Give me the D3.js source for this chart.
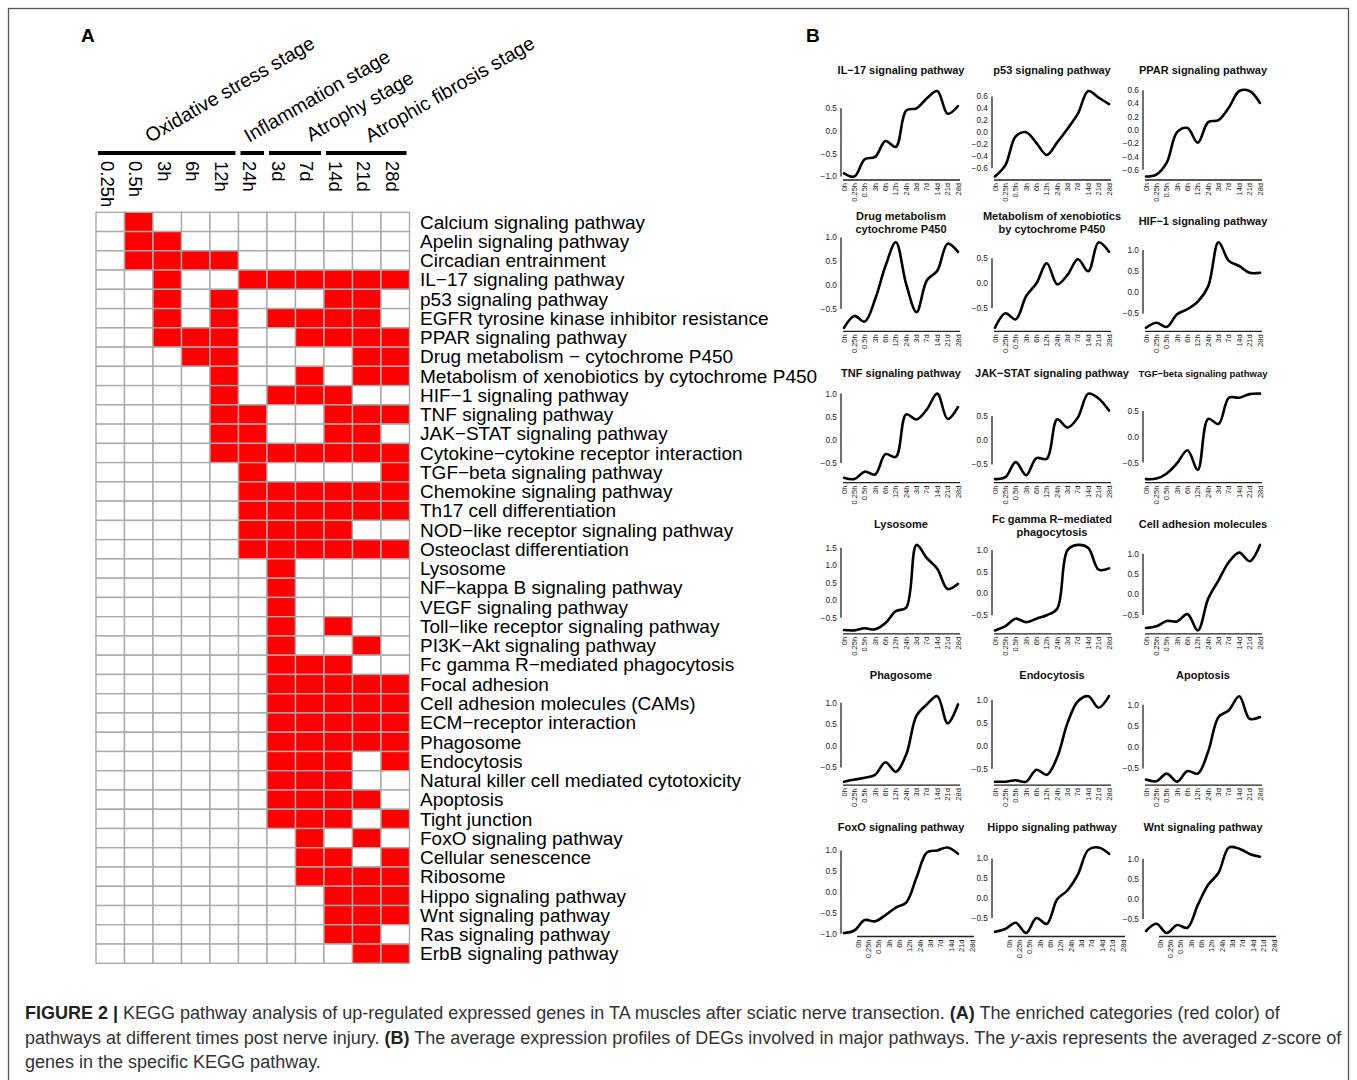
<!DOCTYPE html>
<html><head><meta charset="utf-8">
<script src="https://cdn.jsdelivr.net/npm/d3@7"></script>
<style>
body{margin:0;background:#fff}
svg{display:block}
text{font-family:"Liberation Sans",Arial,Helvetica,sans-serif}
</style>
</head><body>
<svg id="fig" width="1357" height="1080"></svg>
<script>
// ---------------- DATA: panel A ----------------
const timepointsA = ["0.25h","0.5h","3h","6h","12h","24h","3d","7d","14d","21d","28d"];
const stageNames = ["Oxidative stress stage","Inflammation stage","Atrophy stage","Atrophic fibrosis stage"];
const stageFirst = ["0.25h","24h","3d","14d"];
const stageLast  = ["12h","24h","7d","28d"];
const pathways = [
 "Calcium signaling pathway","Apelin signaling pathway","Circadian entrainment","IL\u221217 signaling pathway",
 "p53 signaling pathway","EGFR tyrosine kinase inhibitor resistance","PPAR signaling pathway",
 "Drug metabolism \u2212 cytochrome P450","Metabolism of xenobiotics by cytochrome P450","HIF\u22121 signaling pathway",
 "TNF signaling pathway","JAK\u2212STAT signaling pathway","Cytokine\u2212cytokine receptor interaction",
 "TGF\u2212beta signaling pathway","Chemokine signaling pathway","Th17 cell differentiation",
 "NOD\u2212like receptor signaling pathway","Osteoclast differentiation","Lysosome","NF\u2212kappa B signaling pathway",
 "VEGF signaling pathway","Toll\u2212like receptor signaling pathway","PI3K\u2212Akt signaling pathway",
 "Fc gamma R\u2212mediated phagocytosis","Focal adhesion","Cell adhesion molecules (CAMs)","ECM\u2212receptor interaction",
 "Phagosome","Endocytosis","Natural killer cell mediated cytotoxicity","Apoptosis","Tight junction",
 "FoxO signaling pathway","Cellular senescence","Ribosome","Hippo signaling pathway","Wnt signaling pathway",
 "Ras signaling pathway","ErbB signaling pathway"];
// 1 = enriched (red), columns follow timepointsA
const enriched = [
 [0,1,0,0,0,0,0,0,0,0,0],
 [0,1,1,0,0,0,0,0,0,0,0],
 [0,1,1,1,1,0,0,0,0,0,0],
 [0,0,1,0,0,1,1,1,1,1,1],
 [0,0,1,0,1,0,0,0,1,1,0],
 [0,0,1,0,1,0,1,1,1,1,0],
 [0,0,1,1,1,0,0,1,1,1,1],
 [0,0,0,1,1,0,0,0,0,1,1],
 [0,0,0,0,1,0,0,1,0,1,1],
 [0,0,0,0,1,0,1,1,1,0,0],
 [0,0,0,0,1,1,0,0,1,1,1],
 [0,0,0,0,1,1,0,0,1,1,0],
 [0,0,0,0,1,1,1,1,1,1,1],
 [0,0,0,0,0,1,0,0,0,0,1],
 [0,0,0,0,0,1,1,1,1,1,1],
 [0,0,0,0,0,1,1,1,1,1,1],
 [0,0,0,0,0,1,1,1,1,0,0],
 [0,0,0,0,0,1,1,1,1,1,1],
 [0,0,0,0,0,0,1,0,0,0,0],
 [0,0,0,0,0,0,1,0,0,0,0],
 [0,0,0,0,0,0,1,0,0,0,0],
 [0,0,0,0,0,0,1,0,1,0,0],
 [0,0,0,0,0,0,1,0,0,1,0],
 [0,0,0,0,0,0,1,1,1,0,0],
 [0,0,0,0,0,0,1,1,1,1,1],
 [0,0,0,0,0,0,1,1,1,1,1],
 [0,0,0,0,0,0,1,1,1,1,1],
 [0,0,0,0,0,0,1,1,1,1,1],
 [0,0,0,0,0,0,1,1,1,0,1],
 [0,0,0,0,0,0,1,1,1,0,0],
 [0,0,0,0,0,0,1,1,1,1,0],
 [0,0,0,0,0,0,1,1,1,0,1],
 [0,0,0,0,0,0,0,1,0,1,0],
 [0,0,0,0,0,0,0,1,1,0,1],
 [0,0,0,0,0,0,0,1,1,1,1],
 [0,0,0,0,0,0,0,0,1,1,1],
 [0,0,0,0,0,0,0,0,1,1,1],
 [0,0,0,0,0,0,0,0,1,1,0],
 [0,0,0,0,0,0,0,0,0,1,1]];

// ---------------- DATA: panel B ----------------
const timepointsB = ["0h","0.25h","0.5h","3h","6h","12h","24h","3d","7d","14d","21d","28d"];
const profileTitles = [
 ["IL\u221217 signaling pathway"],["p53 signaling pathway"],["PPAR signaling pathway"],
 ["Drug metabolism","cytochrome P450"],["Metabolism of xenobiotics","by cytochrome P450"],["HIF\u22121 signaling pathway"],
 ["TNF signaling pathway"],["JAK\u2212STAT signaling pathway"],["TGF\u2212beta signaling pathway"],
 ["Lysosome"],["Fc gamma R\u2212mediated","phagocytosis"],["Cell adhesion molecules"],
 ["Phagosome"],["Endocytosis"],["Apoptosis"],
 ["FoxO signaling pathway"],["Hippo signaling pathway"],["Wnt signaling pathway"]];
const il17   = [-0.93,-1.0,-0.62,-0.57,-0.22,-0.35,0.45,0.5,0.72,0.88,0.38,0.55];
const p53    = [-0.74,-0.55,-0.07,0.0,-0.18,-0.38,-0.17,0.06,0.31,0.69,0.58,0.47];
const ppar   = [-0.70,-0.67,-0.49,-0.03,0.03,-0.19,0.12,0.15,0.34,0.59,0.59,0.41];
const drug   = [-0.90,-0.65,-0.77,-0.30,0.40,0.90,0.02,-0.57,0.10,0.30,0.87,0.70];
const xeno   = [-0.89,-0.60,-0.72,-0.26,0.0,0.40,-0.02,0.17,0.48,0.24,0.82,0.63];
const hif1   = [-0.84,-0.72,-0.82,-0.52,-0.40,-0.22,0.14,1.18,0.74,0.62,0.46,0.46];
const tnf    = [-0.82,-0.85,-0.69,-0.75,-0.31,-0.37,0.55,0.44,0.66,1.0,0.45,0.71];
const jakstat= [-0.80,-0.76,-0.45,-0.72,-0.37,-0.38,0.43,0.26,0.47,0.96,0.86,0.61];
const tgfb   = [-0.82,-0.81,-0.71,-0.51,-0.26,-0.64,0.35,0.25,0.76,0.76,0.83,0.84];
const lyso   = [-0.85,-0.86,-0.80,-0.83,-0.65,-0.31,-0.21,1.58,1.20,0.90,0.32,0.47];
const fcgr   = [-0.85,-0.75,-0.58,-0.66,-0.58,-0.50,-0.35,1.0,1.12,1.05,0.55,0.58];
const cams   = [-0.82,-0.78,-0.65,-0.66,-0.48,-0.88,-0.10,0.35,0.80,1.03,0.82,1.22];
const phago  = [-0.83,-0.78,-0.74,-0.67,-0.38,-0.60,-0.20,0.70,0.96,1.15,0.52,0.96];
const endo   = [-0.78,-0.78,-0.75,-0.78,-0.52,-0.63,-0.25,0.50,0.97,1.08,0.83,1.08];
const apop   = [-0.76,-0.80,-0.62,-0.81,-0.56,-0.62,-0.10,0.71,0.87,1.20,0.67,0.71];
const foxo   = [-0.98,-0.92,-0.67,-0.70,-0.55,-0.37,-0.25,0.35,0.95,1.0,1.07,0.92];
const hippo  = [-0.85,-0.78,-0.62,-0.88,-0.50,-0.65,-0.03,0.20,0.60,1.22,1.28,1.12];
const wnt    = [-0.80,-0.62,-0.85,-0.65,-0.72,-0.15,0.35,0.65,1.28,1.25,1.12,1.05];
const profileValues = [il17,p53,ppar,drug,xeno,hif1,tnf,jakstat,tgfb,lyso,fcgr,cams,phago,endo,apop,foxo,hippo,wnt];
const ticksA = [-1.0,-0.5,0.0,0.5];
const ticksB = [-0.6,-0.4,-0.2,0.0,0.2,0.4,0.6];
const ticksC = [-0.5,0.0,0.5,1.0];
const ticksD = [-0.5,0.0,0.5];
const ticksE = [-0.5,0.0,0.5,1.0,1.5];
const ticksF = [-1.0,-0.5,0.0,0.5,1.0];
const profileTicks = [ticksA,ticksB,ticksB,ticksC,ticksD,ticksC,ticksC,ticksD,ticksD,ticksE,ticksC,ticksC,ticksC,ticksC,ticksC,ticksF,ticksC,ticksC];

const captionLines = [
 [["FIGURE 2 | ","b"],["KEGG pathway analysis of up-regulated expressed genes in TA muscles after sciatic nerve transection. ",""],["(A)","b"],[" The enriched categories (red color) of",""]],
 [["pathways at different times post nerve injury. ",""],["(B)","b"],[" The average expression profiles of DEGs involved in major pathways. The ",""],["y","i"],["-axis represents the averaged ",""],["z","i"],["-score of",""]],
 [["genes in the specific KEGG pathway.",""]]];

// ---------------- DRAWING ----------------
const svg = d3.select("#fig");
const fmt = v => d3.format(".1f")(v).replace("-", "\u2212");

// frame
svg.append("rect").attr("x",8.5).attr("y",8.5).attr("width",1340).attr("height",1090)
  .attr("fill","none").attr("stroke","#555").attr("stroke-width",1.3);

// panel letters
svg.append("text").attr("x",81).attr("y",42).attr("font-size",19).attr("font-weight","bold").text("A");
svg.append("text").attr("x",806).attr("y",42).attr("font-size",19).attr("font-weight","bold").text("B");

// ---- Panel A heatmap
const xA = d3.scaleBand().domain(timepointsA).range([96,409.5]);
const yA = d3.scaleBand().domain(pathways).range([212.3,963.3]);
const gA = svg.append("g");
const cells = [];
enriched.forEach((row,i)=>row.forEach((v,j)=>cells.push({p:pathways[i],t:timepointsA[j],v})));
gA.selectAll("rect.cell").data(cells).join("rect").attr("class","cell")
  .attr("x",d=>xA(d.t)).attr("y",d=>yA(d.p))
  .attr("width",xA.bandwidth()).attr("height",yA.bandwidth())
  .attr("fill",d=>d.v? "#ff0000":"#ffffff")
  .attr("stroke","#aaaaaa").attr("stroke-width",1.4);

gA.selectAll("text.row").data(pathways).join("text").attr("class","row")
  .attr("x",420).attr("y",d=>yA(d)+yA.bandwidth()/2).attr("dy","0.35em")
  .attr("font-size",19).attr("fill","#000").text(d=>d);

// column labels (rotated)
gA.selectAll("text.col").data(timepointsA).join("text").attr("class","col")
  .attr("transform",d=>`translate(${xA(d)+xA.bandwidth()/2-9.5},161) rotate(90)`)
  .attr("font-size",18.5).attr("text-anchor","start").text(d=>d);

// stage bars + labels
const stageLabelPos = [[150,143],[249,143],[311,142],[370,143]];
stageNames.forEach((s,i)=>{
  const x0 = xA(stageFirst[i])+2, x1 = xA(stageLast[i])+xA.bandwidth()-3;
  gA.append("line").attr("x1",x0).attr("x2",x1).attr("y1",153).attr("y2",153)
    .attr("stroke","#000").attr("stroke-width",4);
  gA.append("text").attr("transform",`translate(${stageLabelPos[i][0]},${stageLabelPos[i][1]}) rotate(-30)`)
    .attr("font-size",19.5).text(s);
});

// ---- Panel B small multiples
const lineGen = d3.line().curve(d3.curveCatmullRom.alpha(0.5));
profileValues.forEach((vals,k)=>{
  const r = Math.floor(k/3), c = k%3;
  const axisX = 841 + 151*c;
  const base = 180 + 151.3*r;
  const shift = r===5 ? 14 : 0;
  const g = svg.append("g");
  const xB = d3.scalePoint().domain(timepointsB).range([axisX+3, axisX+117]);
  const xL = d3.scalePoint().domain(timepointsB).range([axisX+3+shift, axisX+117+shift]);
  const ext = d3.extent(vals);
  const yB = d3.scaleLinear().domain(ext).range([base-3.5, base-89]);
  const ticks = profileTicks[k];
  // title
  const t = profileTitles[k];
  const small = t[0].startsWith("TGF");
  t.forEach((line,li)=>{
    const yy = t.length===1 ? base-106 : base-111+li*13;
    g.append("text").attr("x",axisX+60).attr("y",yy).attr("text-anchor","middle")
      .attr("font-size",small?9.5:11).attr("font-weight","bold").attr("fill","#111").text(line);
  });
  // y axis line
  g.append("line").attr("x1",axisX).attr("x2",axisX)
    .attr("y1",yB(d3.min(ticks))).attr("y2",yB(d3.max(ticks)))
    .attr("stroke","#222").attr("stroke-width",1.3);
  g.selectAll("text.yt").data(ticks).join("text").attr("class","yt")
    .attr("x",axisX-4).attr("y",d=>yB(d)).attr("dy","0.35em").attr("text-anchor","end")
    .attr("font-size",8.3).attr("fill","#222").text(fmt);
  // x axis
  g.append("line").attr("x1",axisX+2+shift).attr("x2",axisX+119+shift).attr("y1",base).attr("y2",base)
    .attr("stroke","#222").attr("stroke-width",1.3);
  g.selectAll("text.xt").data(timepointsB).join("text").attr("class","xt")
    .attr("transform",d=>`translate(${xL(d)+2.5},${base+3}) rotate(-90)`)
    .attr("text-anchor","end").attr("font-size",7.5).attr("fill","#222").text(d=>d);
  // curve
  const pts = vals.map((v,i)=>[xB(timepointsB[i]), yB(v)]);
  g.append("path").attr("d",lineGen(pts)).attr("fill","none")
    .attr("stroke","#000").attr("stroke-width",2.6).attr("stroke-linecap","round");
});

// ---- caption
captionLines.forEach((parts,li)=>{
  const tx = svg.append("text").attr("x",25).attr("y",1019+li*24.5).attr("font-size",18).attr("fill","#333");
  parts.forEach(([s,st])=>{
    const ts = tx.append("tspan").text(s);
    if(st==="b") ts.attr("font-weight","bold").attr("fill","#222");
    if(st==="i") ts.attr("font-style","italic");
  });
});
</script>
</body></html>
